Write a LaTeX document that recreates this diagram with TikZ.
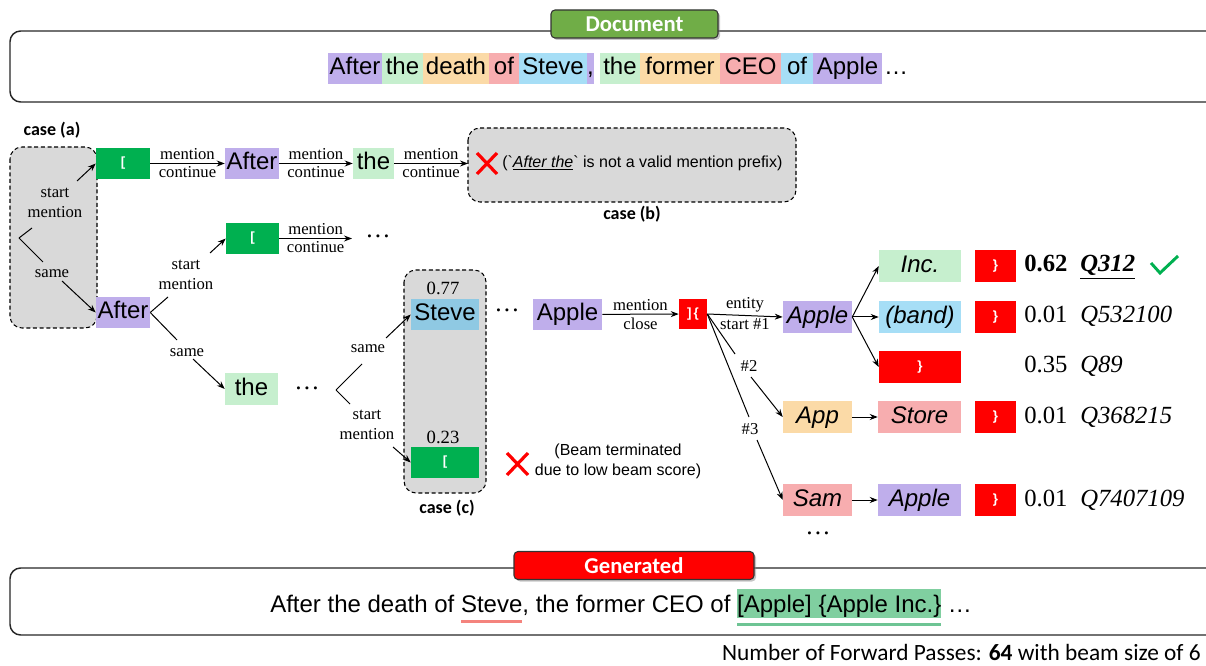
\documentclass[tikz,border=0pt]{standalone}
\usepackage{fontspec}
\setmainfont{Liberation Serif}
\newfontfamily\arialf{Liberation Sans}
\newfontfamily\calf{Carlito}
\usetikzlibrary{arrows.meta,shadows}
\definecolor{cpurple}{RGB}{191,174,235}
\definecolor{cgreenl}{RGB}{198,239,206}
\definecolor{corange}{RGB}{251,218,167}
\definecolor{cpink}{RGB}{247,173,175}
\definecolor{cblue}{RGB}{166,222,246}
\definecolor{cbluedk}{RGB}{143,201,227}
\definecolor{cgreen}{RGB}{0,176,80}
\definecolor{cred}{RGB}{255,0,0}
\definecolor{cgray}{RGB}{217,217,217}
\definecolor{cbadge}{RGB}{112,173,71}
\definecolor{chl}{RGB}{128,207,160}
\definecolor{chlu}{RGB}{110,196,148}
\definecolor{culp}{RGB}{244,131,125}
\newcommand\ulpk[1]{\setbox0\hbox{#1}\rlap{\color{culp}\rule[-8.3pt]{\wd0}{2pt}}\box0\relax}
\newcommand\hlgr[1]{\setbox0\hbox{#1}\rlap{\color{chl}\rule[-4.5pt]{\wd0}{21.75pt}}\rlap{\color{chlu}\rule[-10.5pt]{\wd0}{2.2pt}}\box0\relax}
\begin{document}
\begin{tikzpicture}[x=0.75pt,y=-0.75pt,
  tb/.style={rectangle,inner sep=0pt,minimum height=23.25pt,text height=12.8pt,text depth=3.6pt,font=\arialf\fontsize{18}{20}\selectfont},
  tok/.style={tb,fill=#1},
  br/.style={rectangle,inner sep=0pt,minimum height=23.25pt,fill=#1,text=white,font=\arialf\bfseries\fontsize{10}{12}\selectfont},
  lab/.style={inner sep=2.2pt,font=\fontsize{12.5}{15}\selectfont,align=center},
  arr/.style={-{Stealth[length=6pt,width=4.5pt]},line width=0.75pt},
  ln/.style={line width=0.75pt},
  casebox/.style={draw=black,fill=cgray,dashed,dash pattern=on 3pt off 2pt,line width=0.8pt,rounded corners=9pt},
  casel/.style={font=\calf\bfseries\fontsize{13.5}{16}\selectfont,inner sep=0pt},
  badge/.style={draw=black!80,line width=0.8pt,rounded corners=3pt,text=white,inner sep=0pt,minimum height=21pt,font=\calf\bfseries\fontsize{17}{20}\selectfont,drop shadow={shadow xshift=1.5pt,shadow yshift=-1.5pt,opacity=0.45}},
  outer/.style={draw=black!85,line width=1.1pt,rounded corners=8pt},
  score/.style={anchor=west,inner sep=0pt,text height=12.6pt,text depth=3.6pt,font=\fontsize{18.5}{20}\selectfont},
  dots/.style={inner sep=0pt,font=\fontsize{19}{20}\selectfont},
  small/.style={inner sep=0pt,font=\arialf\fontsize{12}{15}\selectfont,align=center}
]
\useasboundingbox (0,0) rectangle (1206,666);

% ---------- Document ----------
\draw[outer] (10,31) rectangle (1240,102);
\node[badge,fill=cbadge,minimum width=125.25pt] (docb) at (634.5,24) {Document};
\node[tok=cpurple,minimum width=40.5pt] (d1) at (355,68.5) {After};
\node[tok=cgreenl,minimum width=30.75pt] (d2) at (402.5,68.5) {the};
\node[tok=corange,minimum width=49.5pt] (d3) at (456,68.5) {death};
\node[tok=cpink,minimum width=22.5pt] (d4) at (504,68.5) {of};
\node[tok=cblue,minimum width=51pt] (d5) at (553,68.5) {Steve};
\node[tok=cpurple,minimum width=5.25pt] (d6) at (590.5,68.5) {,};
\node[tok=cgreenl,minimum width=30pt] (d7) at (620,68.5) {the};
\node[tok=corange,minimum width=60pt] (d8) at (680,68.5) {former};
\node[tok=cpink,minimum width=45.75pt] (d9) at (750.5,68.5) {CEO};
\node[tok=cblue,minimum width=24pt] (d10) at (797,68.5) {of};
\node[tok=cpurple,minimum width=51.75pt] (d11) at (847.5,68.5) {Apple};
\node[tb] (d12) at (896,68.5) {…};

% ---------- case boxes ----------
\node[casel] (ca) at (52,130) {case (a)};
\draw[casebox] (10,147) rectangle (97,328);
\draw[casebox] (468,128) rectangle (796,202);
\node[casel] (cb) at (632,214) {case (b)};
\draw[casebox] (404,270) rectangle (486,493);
\node[casel] (cc) at (447,508) {case (c)};

% ---------- row 1 ----------
\node[br=cgreen,minimum width=40.5pt] (g1) at (123,163.5) {[};
\node[tok=cpurple,minimum width=40.5pt] (a1) at (252,163.5) {After};
\node[tok=cgreenl,minimum width=30.75pt] (t1) at (373.5,163.5) {the};
\coordinate (xb) at (468,163.5);
\draw[arr] (g1) -- node[lab,above]{mention} node[lab,below]{continue} (a1);
\draw[arr] (a1) -- node[lab,above]{mention} node[lab,below]{continue} (t1);
\draw[arr] (t1) -- node[lab,above]{mention} node[lab,below]{continue} (xb);
\draw[cred,line width=2.4pt] (477,153) -- (497,174) (497,153) -- (477,174);
\node[small,anchor=west] (bt) at (502,163) {(\char"60\underline{\textit{After the}}\char"60{} is not a valid mention prefix)};

% ---------- case (a) branch ----------
\coordinate (apA) at (19,238);
\node[tok=cpurple,minimum width=40.5pt] (a3) at (123,312.5) {After};
\draw[ln] (apA) -- (32,228);
\draw[ln] (apA) -- (43,262);
\node[lab] (la1) at (55,203) {start\\mention};
\node[lab] (la2) at (52,274) {same};
\draw[arr] (77,181) -- (g1.west);
\draw[arr] (62,281) -- (a3.west);

% ---------- row 2 ----------
\node[br=cgreen,minimum width=39.75pt] (g2) at (252.5,238.5) {[};
\coordinate (e2) at (352,238.5);
\node[dots] (dt2) at (378,236) {…};
\draw[arr] (g2) -- node[lab,above]{mention} node[lab,below]{continue} (e2);
\draw[ln] (a3.east) -- (168,297);
\node[lab] (lb1) at (186,275) {start\\mention};
\draw[arr] (210,253) -- (g2.west);
\node[tok=cgreenl,minimum width=39.75pt] (t3) at (251.5,389) {the};
\draw[ln] (a3.east) -- (177,340);
\node[lab] (lb2) at (187,353) {same};
\draw[arr] (193,359) -- (t3.west);
\node[dots] (dt3) at (307,388) {…};

% ---------- case (c) ----------
\coordinate (apC) at (336,390);
\node[tok=cbluedk,minimum width=51pt] (st) at (445,314.5) {Steve};
\node[br=cgreen,minimum width=51pt] (g3) at (445,462.5) {[};
\node[inner sep=0pt,font=\fontsize{14}{16}\selectfont] (p77) at (443,288) {0.77};
\node[inner sep=0pt,font=\fontsize{14}{16}\selectfont] (p23) at (443,437) {0.23};
\draw[ln] (apC) -- (362,364);
\draw[ln] (apC) -- (350,404);
\node[lab] (lc1) at (368,349) {same};
\node[lab] (lc2) at (367,425) {start\\mention};
\draw[arr] (386,338) -- (st.west);
\draw[arr] (393,447) -- (g3.west);
\draw[cred,line width=2.4pt] (507,453) -- (528,475) (528,453) -- (507,475);
\node[small] (bm) at (618,461.5) {(Beam terminated\\due to low beam score)};

% ---------- Apple chain ----------
\node[dots] (dt4) at (507,310) {…};
\node[tok=cpurple,minimum width=51.75pt] (ap) at (567.5,314.5) {Apple};
\node[br=cred,minimum width=21pt,minimum height=22.5pt] (rb) at (693,314) {]\,\{};
\draw[arr] (ap) -- node[lab,above]{mention} node[lab,below]{close} (rb);

\node[tok=cpurple,minimum width=51.75pt,minimum height=24pt,font=\arialf\itshape\fontsize{18}{20}\selectfont] (ap2) at (817.5,317) {Apple};
\draw[arr] (rb.east) -- node[lab,above]{entity} node[lab,below]{start \#1} (ap2.west);
\node[tok=cgreenl,minimum width=61.5pt,minimum height=24pt,font=\arialf\itshape\fontsize{18}{20}\selectfont] (inc) at (920,266) {Inc.};
\node[tok=cblue,minimum width=61.5pt,minimum height=24pt,font=\arialf\itshape\fontsize{18}{20}\selectfont] (band) at (920,317) {(band)};
\node[br=cred,minimum width=61.5pt,minimum height=24pt] (rbig) at (920,367) {\}};
\draw[arr] (ap2.east) -- (inc.west);
\draw[arr] (ap2.east) -- (band.west);
\draw[arr] (ap2.east) -- (rbig.west);

\node[tok=corange,minimum width=51.75pt,minimum height=24pt,font=\arialf\itshape\fontsize{18}{20}\selectfont] (app) at (817.5,417) {App};
\node[tok=cpink,minimum width=62.25pt,minimum height=24pt,font=\arialf\itshape\fontsize{18}{20}\selectfont] (store) at (919.5,417) {Store};
\node[tok=cpink,minimum width=51.75pt,minimum height=24pt,font=\arialf\itshape\fontsize{18}{20}\selectfont] (sam) at (817.5,500) {Sam};
\node[tok=cpurple,minimum width=62.25pt,minimum height=24pt,font=\arialf\itshape\fontsize{18}{20}\selectfont] (ap4) at (919.5,500) {Apple};
\draw[arr] (app) -- (store);
\draw[arr] (sam) -- (ap4);

\draw[ln] (rb.east) -- (735,354);
\node[lab] (h2) at (749,366) {\#2};
\draw[arr] (751,377) -- (app.west);
\draw[ln] (rb.east) -- (749,417);
\node[lab] (h3) at (750,429) {\#3};
\draw[arr] (757,440) -- (sam.west);
\node[dots] (dt5) at (818,533) {…};

% closing braces
\node[br=cred,minimum width=30.75pt,minimum height=24pt] (c1) at (995.5,266) {\}};
\node[br=cred,minimum width=30.75pt,minimum height=24pt] (c2) at (995.5,317) {\}};
\node[br=cred,minimum width=30.75pt,minimum height=24pt] (c4) at (995.5,417) {\}};
\node[br=cred,minimum width=30.75pt,minimum height=24pt] (c5) at (995.5,500) {\}};

% scores
\node[score] (s1) at (1024,266) {\textbf{0.62}};
\node[score] (q1) at (1080,266) {\underline{\textbf{\textit{Q312}}}};
\node[score] (s2) at (1024,317) {0.01};
\node[score] (q2) at (1080,317) {\textit{Q532100}};
\node[score] (s3) at (1024,367) {0.35};
\node[score] (q3) at (1080,367) {\textit{Q89}};
\node[score] (s4) at (1024,417) {0.01};
\node[score] (q4) at (1080,417) {\textit{Q368215}};
\node[score] (s5) at (1024,500) {0.01};
\node[score] (q5) at (1080,500) {\textit{Q7407109}};
\draw[cgreen,line width=2.2pt] (1151,263) -- (1160,273) -- (1178,256);

% ---------- Generated ----------
\draw[outer] (10,568) rectangle (1240,635);
\node[badge,fill=cred,minimum width=180pt] (genb) at (634,565.5) {Generated};
\node[anchor=base west,inner sep=0pt,font=\arialf\fontsize{18}{20}\selectfont] (gen) at (270,612) {After the death of \ulpk{Steve}, the former CEO of \hlgr{[Apple] \{Apple Inc.\}} …};
\node[anchor=base east,inner sep=0pt,font=\calf\fontsize{17.5}{20}\selectfont] (nfp) at (1201,660) {Number of Forward Passes: \textbf{64} with beam size of 6};
\end{tikzpicture}
\end{document}
